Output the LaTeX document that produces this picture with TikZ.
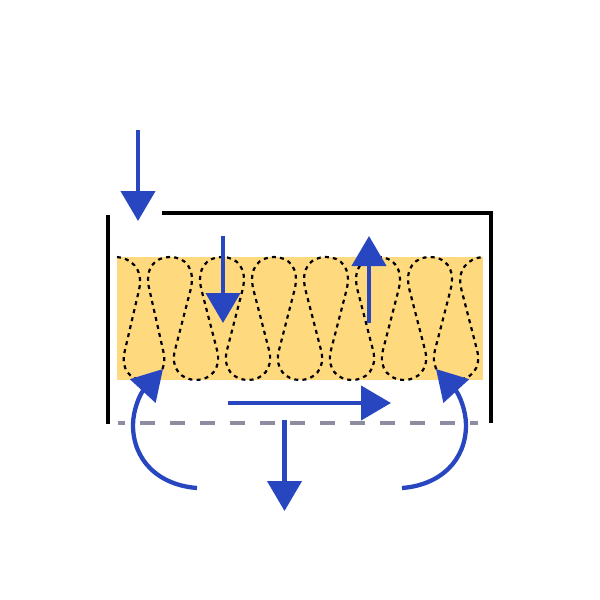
\documentclass[tikz,border=0pt]{standalone}
\usepackage{xcolor}
\usetikzlibrary{arrows.meta}
\definecolor{flow}{HTML}{2846C0}
\definecolor{foam}{HTML}{FFD97D}
\definecolor{liner}{HTML}{8E8CA0}
\begin{document}
\begin{tikzpicture}
  [x=1pt,y=-1pt,
   wall/.style={line width=4pt,black},
   flowline/.style={line width=4.3pt,flow,-{Triangle[length=30pt,width=34pt]}},
   batt/.style={line width=2.2pt,black,dash pattern=on 4pt off 4.2pt}]
  \useasboundingbox (0,0) rectangle (600,600);
  \fill[foam] (117,257) rectangle (483,380);

  \coordinate (c1) at (138,130);
  \coordinate (c2) at (138,221);
  \coordinate (c3) at (223,236);
  \coordinate (c4) at (223,323);
  \coordinate (c5) at (369,323);
  \coordinate (c6) at (369,236);
  \coordinate (c7) at (228,403);
  \coordinate (c8) at (391,403);
  \coordinate (c9) at (284.5,420);
  \coordinate (c10) at (284.5,511);
  \coordinate (l1) at (197,488);
  \coordinate (l2) at (163,369);
  \coordinate (r1) at (402,488);
  \coordinate (r2) at (436,369);

  % batt
  \draw[batt] (117,257) .. controls (130,258) and (144,268) .. (139,290)
    -- (125,350) .. controls (120,369) and (130,380) .. (144,380)
    .. controls (158,380) and (168,369) .. (163,350) -- (149.5,290)
    \foreach \x in {170,222,274,326,378,430}
    { .. controls (\x-26,268) and (\x-15,257) .. (\x,257)
      .. controls (\x+15,257) and (\x+26,268) .. (\x+20.5,290)
      -- (\x+5,350) .. controls (\x,369) and (\x+12,380) .. (\x+26,380)
      .. controls (\x+40,380) and (\x+52,369) .. (\x+47,350) -- (\x+31.5,290) }
    .. controls (456,270) and (468,258) .. (483,257);
  \draw[wall] (108,215) -- (108,424);
  \draw[wall] (162,213) -- (491,213) -- (491,423);
  \draw[line width=4pt,liner,dash pattern=on 15pt off 15pt,dash phase=8pt] (118,423) -- (478,423);

  \foreach \from/\to in {c1/c2,c3/c4,c5/c6,c7/c8,c9/c10}
    \draw[flowline] (\from) -- (\to);
  \draw[flowline] (l1) .. controls (158,485) and (133,460) .. (133,425)
    .. controls (133,410) and (140,394) .. (l2);
  \draw[flowline] (r1) .. controls (441,485) and (466,460) .. (466,425)
    .. controls (466,410) and (459,394) .. (r2);
\end{tikzpicture}
\end{document}
